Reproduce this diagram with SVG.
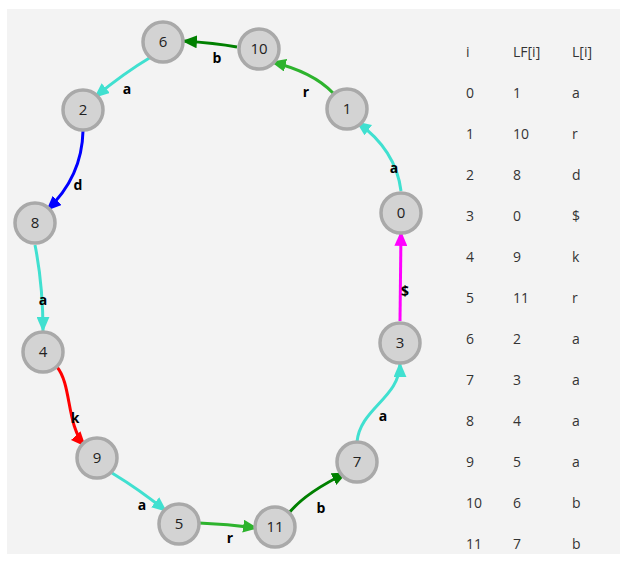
<svg xmlns="http://www.w3.org/2000/svg" width="620" height="564" viewBox="0 0 620 564">
<style>
.node circle{fill:#d3d3d3;stroke:#a9a9a9;stroke-width:3.5}
.node text{font-family:"Open Sans","Noto Sans",sans-serif;font-size:15px;fill:#222;text-anchor:middle}
.e{fill:none;stroke-width:3}
.lbl{font-family:"Open Sans","Noto Sans",sans-serif;font-size:14px;font-weight:bold;fill:#000;text-anchor:middle}
.tbl text{font-family:"Open Sans","Noto Sans",sans-serif;font-size:14px;fill:#333}
</style>
<defs>
<marker id="aT" viewBox="0 0 14 12" refX="13" refY="6" markerUnits="userSpaceOnUse" markerWidth="15" markerHeight="13" orient="auto"><path d="M0,0L14,6L0,12z" fill="#40e0d0"/></marker>
<marker id="aG" viewBox="0 0 14 12" refX="13" refY="6" markerUnits="userSpaceOnUse" markerWidth="15" markerHeight="13" orient="auto"><path d="M0,0L14,6L0,12z" fill="#2db32d"/></marker>
<marker id="aD" viewBox="0 0 14 12" refX="13" refY="6" markerUnits="userSpaceOnUse" markerWidth="15" markerHeight="13" orient="auto"><path d="M0,0L14,6L0,12z" fill="#008000"/></marker>
<marker id="aB" viewBox="0 0 14 12" refX="13" refY="6" markerUnits="userSpaceOnUse" markerWidth="15" markerHeight="13" orient="auto"><path d="M0,0L14,6L0,12z" fill="#0000ff"/></marker>
<marker id="aR" viewBox="0 0 14 12" refX="13" refY="6" markerUnits="userSpaceOnUse" markerWidth="15" markerHeight="13" orient="auto"><path d="M0,0L14,6L0,12z" fill="#ff0000"/></marker>
<marker id="aM" viewBox="0 0 14 12" refX="13" refY="6" markerUnits="userSpaceOnUse" markerWidth="15" markerHeight="13" orient="auto"><path d="M0,0L14,6L0,12z" fill="#ff00ff"/></marker>
</defs>
<rect x="7" y="9" width="613" height="545" fill="#f3f3f3"/>
<g id="connectors">
<path class="e" stroke="#40e0d0" marker-end="url(#aT)" d="M401,191 Q396,150 357,122"/>
<path class="e" stroke="#2db32d" marker-end="url(#aG)" d="M333,93 Q313,72 272,62"/>
<path class="e" stroke="#008000" marker-end="url(#aD)" d="M237,47 Q215,43 183,41"/>
<path class="e" stroke="#40e0d0" marker-end="url(#aT)" d="M151,57 Q124,73 95,97"/>
<path class="e" stroke="#0000ff" marker-end="url(#aB)" d="M83,131 Q82,177 47,210"/>
<path class="e" stroke="#40e0d0" marker-end="url(#aT)" d="M35,245 Q43,285 43,331"/>
<path class="e" stroke="#ff0000" marker-end="url(#aR)" d="M57,367 C72,385 66,425 85,446"/>
<path class="e" stroke="#40e0d0" marker-end="url(#aT)" d="M112,473 Q140,490 166,511"/>
<path class="e" stroke="#2db32d" marker-end="url(#aG)" d="M199,523 Q228,524 257,528"/>
<path class="e" stroke="#008000" marker-end="url(#aD)" d="M289,513 Q305,493 346,473"/>
<path class="e" stroke="#40e0d0" marker-end="url(#aT)" d="M357,442 C360,408 400,398 400,363"/>
<path class="e" stroke="#ff00ff" marker-end="url(#aM)" d="M400,321 L401,232"/>
<text class="lbl" x="394" y="173">a</text>
<text class="lbl" x="306" y="97">r</text>
<text class="lbl" x="217" y="63">b</text>
<text class="lbl" x="127" y="94">a</text>
<text class="lbl" x="78" y="190">d</text>
<text class="lbl" x="43" y="305">a</text>
<text class="lbl" x="75" y="423">k</text>
<text class="lbl" x="142" y="510">a</text>
<text class="lbl" x="230" y="543">r</text>
<text class="lbl" x="321" y="513">b</text>
<text class="lbl" x="383" y="421">a</text>
<text class="lbl" x="405" y="296">$</text>
</g>
<g id="n6" class="node"><circle cx="163" cy="42" r="20"/><text x="163" y="47">6</text></g>
<g id="n10" class="node"><circle cx="259" cy="49" r="20"/><text x="259" y="54">10</text></g>
<g id="n1" class="node"><circle cx="347" cy="109" r="20"/><text x="347" y="114">1</text></g>
<g id="n2" class="node"><circle cx="83" cy="110" r="20"/><text x="83" y="115">2</text></g>
<g id="n8" class="node"><circle cx="35" cy="223" r="20"/><text x="35" y="228">8</text></g>
<g id="n0" class="node"><circle cx="401" cy="213" r="20"/><text x="401" y="218">0</text></g>
<g id="n4" class="node"><circle cx="43" cy="352" r="20"/><text x="43" y="357">4</text></g>
<g id="n3" class="node"><circle cx="400" cy="343" r="20"/><text x="400" y="348">3</text></g>
<g id="n9" class="node"><circle cx="97" cy="458" r="20"/><text x="97" y="463">9</text></g>
<g id="n7" class="node"><circle cx="357" cy="462" r="20"/><text x="357" y="467">7</text></g>
<g id="n5" class="node"><circle cx="179" cy="524" r="20"/><text x="179" y="529">5</text></g>
<g id="n11" class="node"><circle cx="275" cy="527" r="20"/><text x="275" y="532">11</text></g>
<g id="table" class="tbl">
<text x="466" y="57">i</text><text x="513" y="57">LF[i]</text><text x="572" y="57">L[i]</text>
<text x="466" y="98">0</text><text x="513" y="98">1</text><text x="572" y="98">a</text>
<text x="466" y="139">1</text><text x="513" y="139">10</text><text x="572" y="139">r</text>
<text x="466" y="180">2</text><text x="513" y="180">8</text><text x="572" y="180">d</text>
<text x="466" y="221">3</text><text x="513" y="221">0</text><text x="572" y="221">$</text>
<text x="466" y="262">4</text><text x="513" y="262">9</text><text x="572" y="262">k</text>
<text x="466" y="303">5</text><text x="513" y="303">11</text><text x="572" y="303">r</text>
<text x="466" y="344">6</text><text x="513" y="344">2</text><text x="572" y="344">a</text>
<text x="466" y="385">7</text><text x="513" y="385">3</text><text x="572" y="385">a</text>
<text x="466" y="426">8</text><text x="513" y="426">4</text><text x="572" y="426">a</text>
<text x="466" y="467">9</text><text x="513" y="467">5</text><text x="572" y="467">a</text>
<text x="466" y="508">10</text><text x="513" y="508">6</text><text x="572" y="508">b</text>
<text x="466" y="549">11</text><text x="513" y="549">7</text><text x="572" y="549">b</text>
</g>
</svg>
